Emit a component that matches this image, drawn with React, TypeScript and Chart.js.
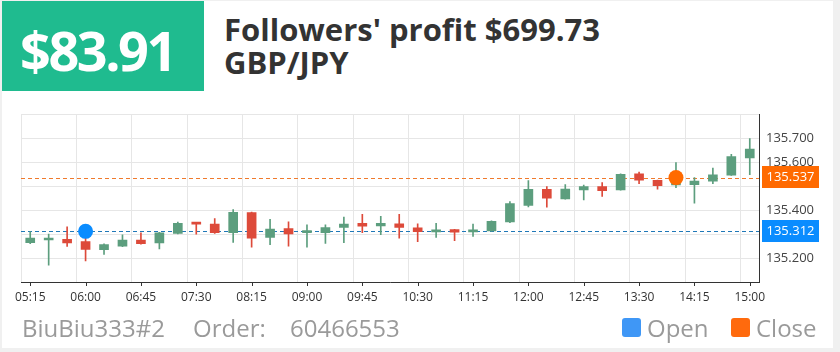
import React, { useEffect, useRef } from 'react';
import { Chart, registerables } from 'chart.js';

Chart.register(...registerables);

// ---- data ----
const timeLabels = [
  '05:15', '05:30', '05:45', '06:00', '06:15', '06:30', '06:45', '07:00', '07:15', '07:30',
  '07:45', '08:00', '08:15', '08:30', '08:45', '09:00', '09:15', '09:30', '09:45', '10:00',
  '10:15', '10:30', '10:45', '11:00', '11:15', '11:30', '11:45', '12:00', '12:15', '12:30',
  '12:45', '13:00', '13:15', '13:30', '13:45', '14:00', '14:15', '14:30', '14:45', '15:00',
];

const opens = [
  135.265, 135.276, 135.279, 135.269, 135.235, 135.250, 135.275, 135.264, 135.303, 135.348,
  135.342, 135.307, 135.391, 135.287, 135.324, 135.307, 135.307, 135.328, 135.346, 135.335,
  135.344, 135.327, 135.310, 135.319, 135.310, 135.314, 135.352, 135.421, 135.488, 135.448,
  135.485, 135.500, 135.485, 135.553, 135.526, 135.506, 135.508, 135.522, 135.547, 135.619,
];
const closes = [
  135.284, 135.280, 135.264, 135.236, 135.257, 135.276, 135.260, 135.306, 135.346, 135.342,
  135.307, 135.392, 135.283, 135.322, 135.301, 135.314, 135.328, 135.343, 135.334, 135.346,
  135.328, 135.311, 135.316, 135.309, 135.317, 135.354, 135.428, 135.488, 135.451, 135.489,
  135.500, 135.482, 135.551, 135.526, 135.503, 135.520, 135.522, 135.549, 135.625, 135.656,
];
const highs = [
  135.311, 135.301, 135.331, 135.305, 135.260, 135.297, 135.306, 135.308, 135.351, 135.349,
  135.365, 135.403, 135.393, 135.362, 135.352, 135.339, 135.339, 135.372, 135.383, 135.375,
  135.383, 135.344, 135.346, 135.320, 135.343, 135.356, 135.437, 135.525, 135.499, 135.508,
  135.506, 135.516, 135.553, 135.560, 135.527, 135.600, 135.537, 135.577, 135.635, 135.700,
];
const lows = [
  135.260, 135.170, 135.249, 135.188, 135.215, 135.248, 135.258, 135.239, 135.301, 135.300,
  135.303, 135.266, 135.246, 135.256, 135.250, 135.246, 135.262, 135.265, 135.307, 135.298,
  135.284, 135.269, 135.287, 135.273, 135.291, 135.313, 135.348, 135.414, 135.413, 135.447,
  135.444, 135.458, 135.484, 135.512, 135.489, 135.495, 135.430, 135.512, 135.546, 135.549,
];

const openMarkTime = '06:00';
const openMarkPrice = 135.312;
const closeMarkTime = '14:00';
const closeMarkPrice = 135.537;

const yMin = 135.1;
const yMax = 135.8;
const yStep = 0.1;

const upColor = '#5c9e7e';
const downColor = '#dd4a3a';
const openColor = '#0a8cff';
const closeColor = '#ff6a00';
const openLineColor = '#1f78b8';
const closeLineColor = '#f07a2c';
const gridColor = '#e6e6e6';
const FONT = "'Open Sans', 'Noto Sans', sans-serif";

const overlayPlugin = {
  id: 'overlay',
  beforeDatasetsDraw(chart: any) {
    const { ctx, chartArea } = chart;
    const y = chart.scales.y;
    ctx.save();
    ctx.lineWidth = 1;
    ctx.setLineDash([4, 3]);
    const lines = [
      [openMarkPrice, openLineColor],
      [closeMarkPrice, closeLineColor],
    ] as [number, string][];
    for (const [v, c] of lines) {
      const py = Math.round(y.getPixelForValue(v)) + 0.5;
      ctx.strokeStyle = c;
      ctx.beginPath();
      ctx.moveTo(chartArea.left, py);
      ctx.lineTo(chartArea.right, py);
      ctx.stroke();
    }
    ctx.restore();
  },
  afterDraw(chart: any) {
    const { ctx, chartArea } = chart;
    const x = chart.scales.x;
    const y = chart.scales.y;
    ctx.save();
    // x tick marks at labelled categories
    ctx.strokeStyle = '#333';
    ctx.lineWidth = 1;
    for (let i = 0; i < timeLabels.length; i++) {
      if (i % 3 !== 0) continue;
      const px = Math.round(x.getPixelForValue(i)) + 0.5;
      ctx.beginPath();
      ctx.moveTo(px, chartArea.bottom);
      ctx.lineTo(px, chartArea.bottom + 4);
      ctx.stroke();
    }
    // price label boxes
    const boxes = [
      [openMarkPrice, openColor],
      [closeMarkPrice, closeColor],
    ] as [number, string][];
    ctx.font = `13px ${FONT}`;
    ctx.textBaseline = 'middle';
    ctx.textAlign = 'center';
    for (const [v, c] of boxes) {
      const py = y.getPixelForValue(v);
      ctx.fillStyle = c;
      ctx.fillRect(chartArea.right + 3, Math.round(py - 11.5), 57, 22);
      ctx.fillStyle = '#fff';
      ctx.fillText(v.toFixed(3), chartArea.right + 31.5, py);
    }
    ctx.restore();
  },
};

function CandleChart() {
  const ref = useRef<HTMLCanvasElement | null>(null);
  useEffect(() => {
    if (!ref.current) return;
    const colors = opens.map((o, i) => (closes[i] >= o ? upColor : downColor));
    const bodies = opens.map((o, i) => [o, closes[i]]);
    const wicks = lows.map((l, i) => [l, highs[i]]);
    const openPts = timeLabels.map((t) => (t === openMarkTime ? openMarkPrice : null));
    const closePts = timeLabels.map((t) => (t === closeMarkTime ? closeMarkPrice : null));

    const chart = new Chart(ref.current, {
      type: 'bar',
      data: {
        labels: timeLabels,
        datasets: [
          {
            type: 'line',
            label: 'Open',
            data: openPts as any,
            showLine: false,
            pointRadius: 7.5,
            pointBackgroundColor: openColor,
            pointBorderColor: openColor,
            pointBorderWidth: 0,
            order: 0,
          } as any,
          {
            type: 'line',
            label: 'Close',
            data: closePts as any,
            showLine: false,
            pointRadius: 7.5,
            pointBackgroundColor: closeColor,
            pointBorderColor: closeColor,
            pointBorderWidth: 0,
            order: 0,
          } as any,
          {
            label: 'body',
            data: bodies as any,
            backgroundColor: colors,
            borderWidth: 0,
            barThickness: 9,
            minBarLength: 2,
            grouped: false,
            order: 1,
          } as any,
          {
            label: 'wick',
            data: wicks as any,
            backgroundColor: colors,
            borderWidth: 0,
            barThickness: 1,
            grouped: false,
            order: 2,
          } as any,
        ],
      },
      options: {
        animation: false,
        responsive: false,
        maintainAspectRatio: false,
        events: [],
        layout: { padding: { left: 21, top: 12, right: 0, bottom: 0 } },
        plugins: {
          legend: { display: false },
          tooltip: { enabled: false },
        },
        scales: {
          x: {
            type: 'category',
            offset: true,
            grid: {
              offset: true,
              drawTicks: false,
              color: (ctx: any) => (ctx.index % 3 === 0 ? gridColor : 'rgba(0,0,0,0)'),
            },
            border: { color: '#333', width: 1 },
            ticks: {
              autoSkip: false,
              maxRotation: 0,
              minRotation: 0,
              padding: 8,
              color: '#333',
              font: { size: 12, family: FONT },
              callback: (_v: any, i: number) => (i % 3 === 0 ? timeLabels[i] : ''),
            },
            afterFit: (s: any) => {
              s.height = 33;
            },
          },
          y: {
            position: 'right',
            min: yMin,
            max: yMax,
            grid: { color: gridColor, drawTicks: false },
            border: { color: '#333', width: 1 },
            ticks: {
              stepSize: yStep,
              padding: 7,
              color: '#444',
              font: { size: 13, family: FONT },
              callback: (v: any) => {
                const n = Number(v);
                if (Math.abs(n - yMin) < 1e-6 || Math.abs(n - yMax) < 1e-6) return '';
                if (Math.abs(n - openMarkPrice) < 0.05 || Math.abs(n - closeMarkPrice) < 0.05) return '';
                return n.toFixed(3);
              },
            },
            afterFit: (s: any) => {
              s.width = 81;
            },
          },
        },
      } as any,
      plugins: [overlayPlugin],
    });
    return () => chart.destroy();
  }, []);
  return <canvas ref={ref} width={840} height={215} style={{ display: 'block', width: 840, height: 215 }} />;
}

export default function App() {
  return (
    <div
      style={{
        position: 'relative',
        width: 840,
        height: 352,
        background: '#f0f0f0',
        fontFamily: FONT,
        overflow: 'hidden',
      }}
    >
      <style>{'html,body{margin:0;padding:0;background:#f0f0f0;}'}</style>
      <div
        style={{
          position: 'absolute',
          left: 2,
          top: 1,
          width: 831,
          height: 347,
          background: '#fff',
        }}
      />
      <div
        style={{
          position: 'absolute',
          left: 2,
          top: 1,
          width: 202,
          height: 90,
          background: '#1fbb8f',
        }}
      />
      <div
        style={{
          position: 'absolute',
          left: 20,
          top: 13,
          color: '#fff',
          fontWeight: 700,
          fontSize: 54,
          letterSpacing: -2.5,
          lineHeight: '74px',
          whiteSpace: 'nowrap',
        }}
      >
        $83.91
      </div>
      <div
        style={{
          position: 'absolute',
          left: 224,
          top: 13,
          color: '#333',
          fontWeight: 700,
          fontSize: 31,
          lineHeight: '33px',
          whiteSpace: 'nowrap',
        }}
      >
        <div>Followers' profit $699.73</div>
        <div>GBP/JPY</div>
      </div>
      <div style={{ position: 'absolute', left: 0, top: 100, width: 840, height: 215 }}>
        <CandleChart />
      </div>
      <div
        style={{
          position: 'absolute',
          left: 0,
          top: 311,
          width: 840,
          height: 34,
          color: '#9a9a9a',
          fontSize: 24,
          lineHeight: '34px',
          whiteSpace: 'nowrap',
        }}
      >
        <span style={{ position: 'absolute', left: 22 }}>BiuBiu333#2</span>
        <span style={{ position: 'absolute', left: 193 }}>Order:</span>
        <span style={{ position: 'absolute', left: 290 }}>60466553</span>
        <span
          style={{
            position: 'absolute',
            left: 622,
            top: 7,
            width: 19,
            height: 19,
            borderRadius: 3,
            background: '#3f97f6',
          }}
        />
        <span style={{ position: 'absolute', left: 647 }}>Open</span>
        <span
          style={{
            position: 'absolute',
            left: 731,
            top: 7,
            width: 19,
            height: 19,
            borderRadius: 3,
            background: '#ff6a0d',
          }}
        />
        <span style={{ position: 'absolute', left: 756 }}>Close</span>
      </div>
    </div>
  );
}
